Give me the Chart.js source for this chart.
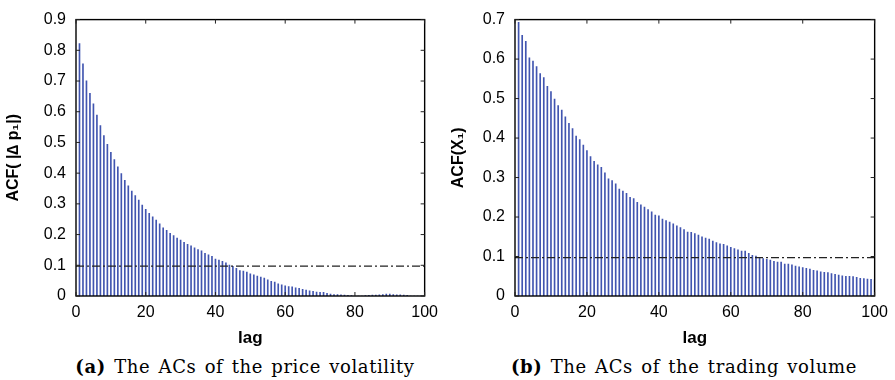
<!DOCTYPE html>
<html><head><meta charset="utf-8">
<script src="https://cdn.jsdelivr.net/npm/chart.js@4/dist/chart.umd.min.js"></script>
<style>
html,body{margin:0;padding:0;background:#fff;}
#wrap{position:relative;width:895px;height:380px;overflow:hidden;background:#fff;}
canvas{position:absolute;top:0;}
.cap{position:absolute;font-family:"DejaVu Serif",serif;font-size:18px;line-height:20px;letter-spacing:0.6px;word-spacing:2px;color:#000;white-space:nowrap;transform:translateX(-50%);}
</style></head><body>
<div id="wrap">
<canvas id="c1" width="445" height="350" style="left:0"></canvas>
<canvas id="c2" width="450" height="350" style="left:445px"></canvas>
<div class="cap" style="left:245px;top:357px"><b>(a)</b> The ACs of the price volatility</div>
<div class="cap" style="left:684px;top:357px"><b>(b)</b> The ACs of the trading volume</div>
</div>
<script>
const lags = [1,2,3,4,5,6,7,8,9,10,11,12,13,14,15,16,17,18,19,20,21,22,23,24,25,26,27,28,29,30,31,32,33,34,35,36,37,38,39,40,41,42,43,44,45,46,47,48,49,50,51,52,53,54,55,56,57,58,59,60,61,62,63,64,65,66,67,68,69,70,71,72,73,74,75,76,77,78,79,80,81,82,83,84,85,86,87,88,89,90,91,92,93,94,95,96,97,98,99,100];
const acfPrice = [0.822,0.756,0.701,0.660,0.626,0.589,0.555,0.522,0.494,0.468,0.444,0.421,0.399,0.377,0.359,0.342,0.327,0.312,0.296,0.282,0.269,0.258,0.247,0.235,0.222,0.214,0.204,0.197,0.189,0.182,0.175,0.168,0.163,0.157,0.151,0.147,0.139,0.134,0.129,0.120,0.117,0.113,0.108,0.101,0.097,0.090,0.083,0.081,0.078,0.072,0.069,0.065,0.062,0.058,0.053,0.048,0.045,0.040,0.036,0.033,0.031,0.030,0.027,0.025,0.022,0.019,0.017,0.015,0.013,0.012,0.012,0.009,0.006,0.005,0.005,0.004,0.003,0.002,0.001,0,0,0,0.001,0.002,0.003,0.003,0.004,0.005,0.006,0.006,0.005,0.004,0.004,0.003,0.002,0,0,0,0,0];
const acfVolume = [0.693,0.660,0.645,0.603,0.595,0.581,0.563,0.553,0.531,0.518,0.499,0.482,0.471,0.454,0.437,0.424,0.405,0.396,0.382,0.368,0.353,0.341,0.332,0.326,0.312,0.297,0.292,0.284,0.271,0.266,0.260,0.250,0.247,0.237,0.231,0.225,0.219,0.213,0.205,0.203,0.195,0.191,0.187,0.183,0.178,0.173,0.168,0.162,0.161,0.158,0.154,0.150,0.147,0.144,0.139,0.135,0.132,0.131,0.127,0.123,0.120,0.117,0.114,0.114,0.108,0.103,0.101,0.098,0.095,0.093,0.091,0.088,0.086,0.086,0.081,0.081,0.079,0.076,0.074,0.072,0.070,0.068,0.065,0.064,0.061,0.060,0.059,0.057,0.055,0.053,0.051,0.050,0.050,0.049,0.047,0.045,0.044,0.043,0.042,0.041];
const bandPrice = 0.097;
const bandVolume = 0.097;
const xRange = [0, 100];
const xStep = 20;
const yStep = 0.1;
const yMaxPrice = 0.9;
const yMaxVolume = 0.7;
const titlePrice = 'ACF( |\u2206 p\u2081|)';
const titleVolume = 'ACF(X\u2081)';
const xTitle = 'lag';

const SANS = '"Liberation Sans", Arial, Helvetica, sans-serif';

const framePlugin = {
  id: 'frame',
  afterDatasetsDraw(chart) {
    const {ctx, chartArea: a, scales: {x, y}} = chart;
    ctx.save();
    ctx.strokeStyle = '#000';
    ctx.lineWidth = 1.4;
    ctx.strokeRect(a.left, a.top, a.right - a.left, a.bottom - a.top);
    ctx.lineWidth = 1;
    ctx.strokeStyle = '#222';
    const L = 4;
    ctx.beginPath();
    x.ticks.forEach(t => {
      const px = x.getPixelForValue(t.value);
      ctx.moveTo(px, a.bottom); ctx.lineTo(px, a.bottom - L);
      ctx.moveTo(px, a.top); ctx.lineTo(px, a.top + L);
    });
    y.ticks.forEach(t => {
      const py = y.getPixelForValue(t.value);
      ctx.moveTo(a.left, py); ctx.lineTo(a.left + L, py);
      ctx.moveTo(a.right, py); ctx.lineTo(a.right - L, py);
    });
    ctx.stroke();
    ctx.restore();
  }
};

function makeChart(id, values, band, ymax, yTitle, yWidth, padRight) {
  return new Chart(document.getElementById(id), {
    type: 'bar',
    data: {
      datasets: [
        {
          type: 'line',
          data: [{x: xRange[0], y: band}, {x: xRange[1], y: band}],
          borderColor: '#222',
          borderWidth: 1.2,
          borderDash: [8, 3, 2, 3],
          pointRadius: 0,
          order: 0
        },
        {
          type: 'bar',
          data: lags.map((l, i) => ({x: l, y: values[i]})),
          backgroundColor: '#4155b0',
          barThickness: 1,
          order: 1
        }
      ]
    },
    options: {
      responsive: false,
      animation: false,
      events: [],
      layout: {padding: {top: 14, right: padRight, left: 0, bottom: 0}},
      plugins: {legend: {display: false}, tooltip: {enabled: false}},
      scales: {
        x: {
          type: 'linear', min: xRange[0], max: xRange[1], offset: false,
          ticks: {stepSize: xStep, padding: 7, color: '#000', maxRotation: 0, font: {family: SANS, size: 16}},
          grid: {display: false, drawTicks: false}, border: {display: false},
          title: {display: true, text: xTitle, color: '#000', font: {family: SANS, size: 17, weight: 'bold'}, padding: {top: 0, bottom: 1}},
          afterFit(s) { s.height = 54; }
        },
        y: {
          min: 0, max: ymax,
          ticks: {stepSize: yStep, padding: 10, color: '#000', font: {family: SANS, size: 16}, callback: v => String(+v.toFixed(1))},
          grid: {display: false, drawTicks: false}, border: {display: false},
          title: {display: true, text: yTitle, color: '#000', font: {family: SANS, size: 16, weight: 'bold'}, padding: {top: 4, bottom: 0}},
          afterFit(s) { s.width = yWidth; }
        }
      }
    },
    plugins: [framePlugin]
  });
}

makeChart('c1', acfPrice, bandPrice, yMaxPrice, titlePrice, 76, 10);
makeChart('c2', acfVolume, bandVolume, yMaxVolume, titleVolume, 70, 20);
</script>
</body></html>
